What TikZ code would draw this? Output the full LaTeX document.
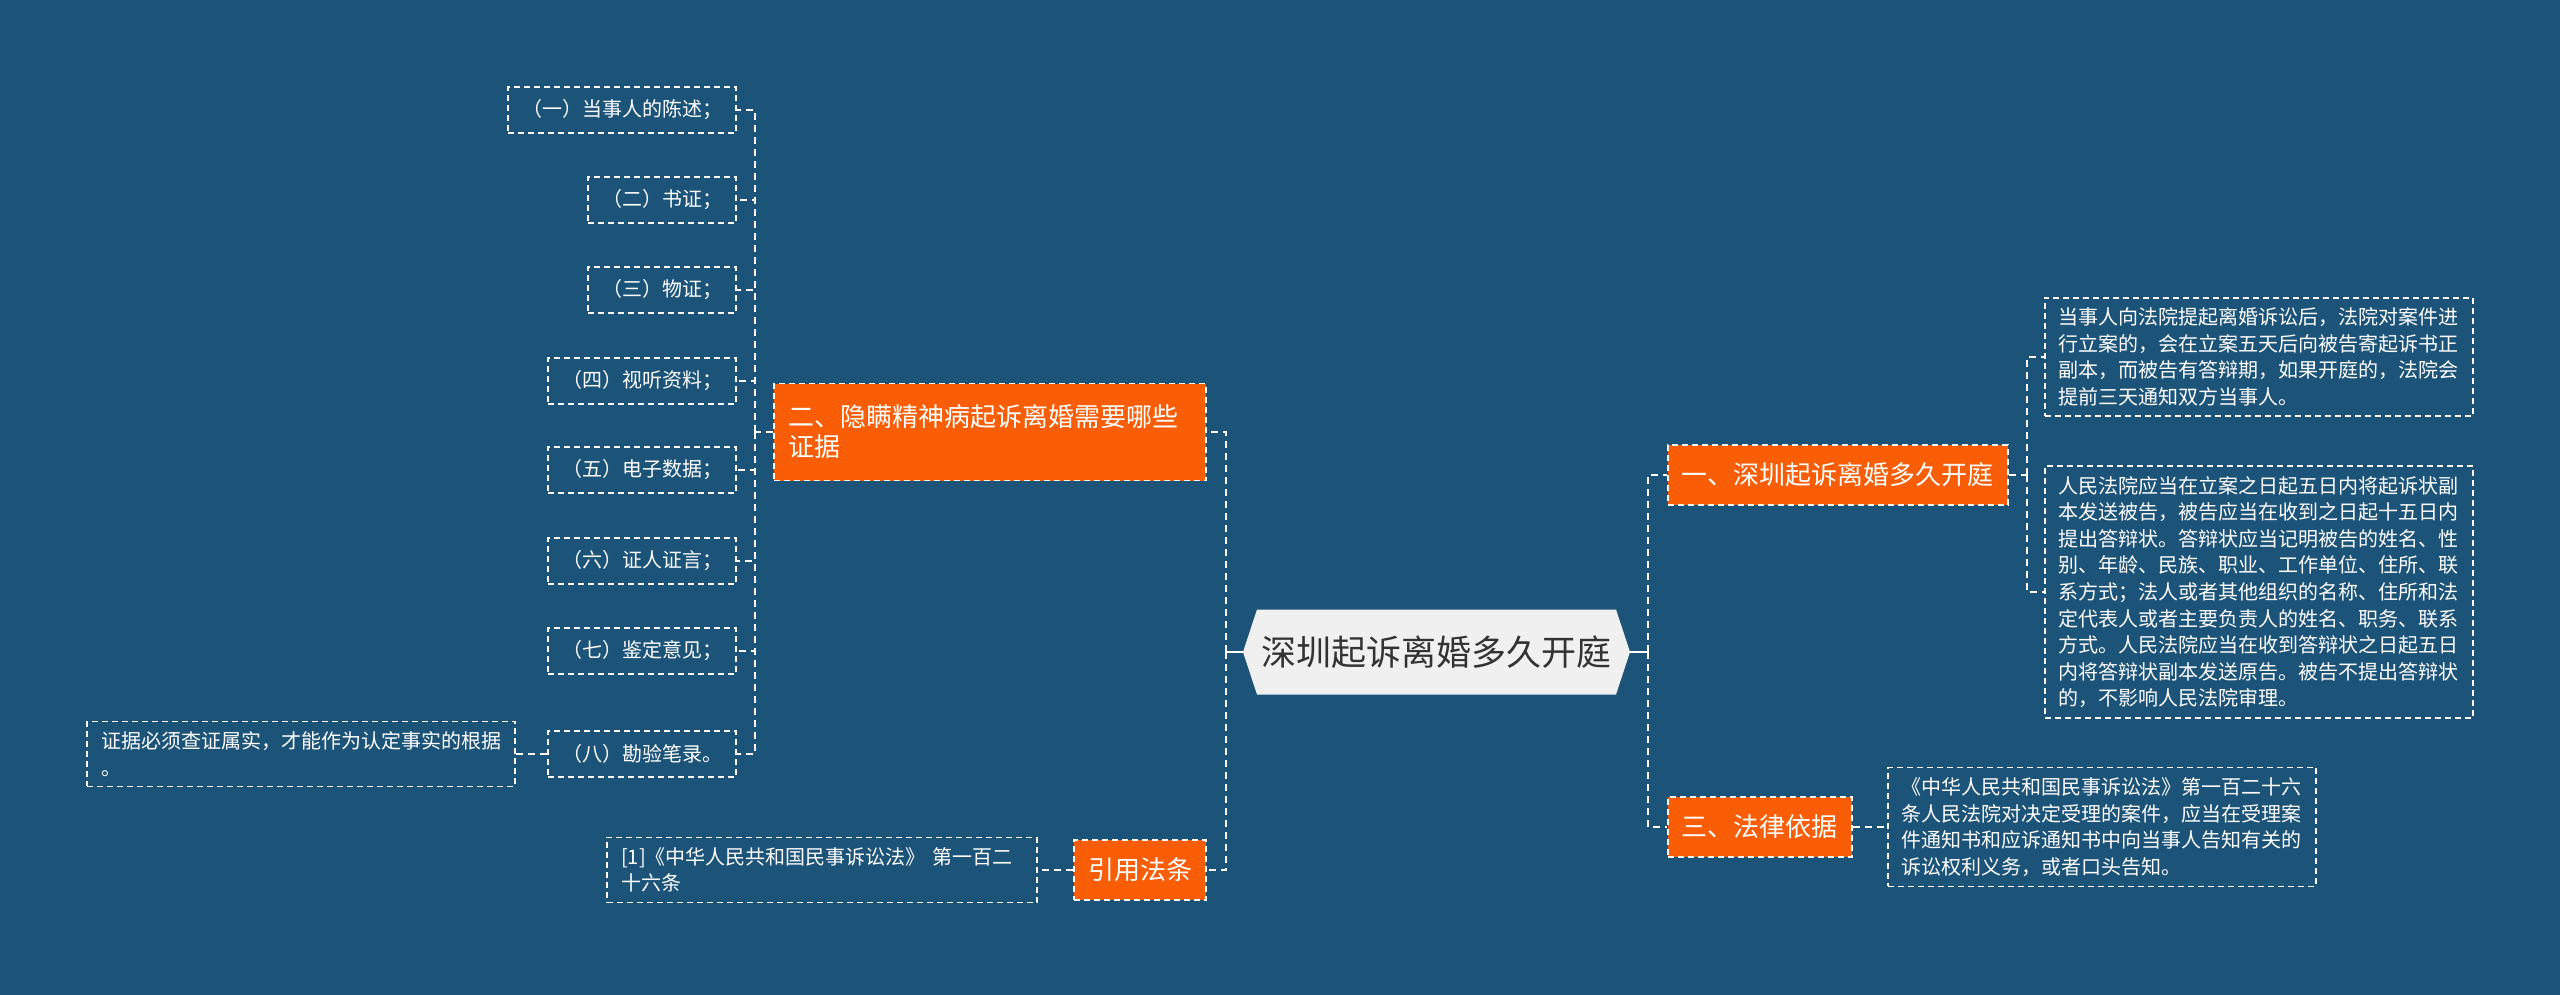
\documentclass[tikz,border=0pt]{standalone}
\usepackage{fontspec}
\newfontfamily\cjk{Noto Sans CJK SC}
\usetikzlibrary{calc}
\definecolor{bgblue}{RGB}{28,84,121}
\definecolor{branchorange}{RGB}{249,94,6}
\definecolor{rootgray}{RGB}{240,240,240}
\definecolor{roottext}{RGB}{51,51,51}
\tikzset{
  link/.style={draw=white, line width=1pt, dash pattern=on 3.5pt off 2.5pt},
  stub/.style={draw=white, line width=1pt},
  leaf/.style={draw=white, line width=0.8pt, dash pattern=on 3pt off 2pt, text=white,
    font=\cjk\fontsize{10pt}{13.3pt}\selectfont, align=left,
    inner xsep=7pt, inner ysep=5pt, minimum height=23pt},
  branch/.style={draw=white, fill=branchorange, line width=0.8pt, dash pattern=on 3pt off 2pt,
    text=white, font=\cjk\fontsize{13pt}{15pt}\selectfont, align=left,
    inner xsep=7pt, inner ysep=8pt, minimum height=30pt},
  rootnode/.style={minimum width=193.5pt, minimum height=42.5pt, inner sep=0pt, fill=bgblue,
    text=roottext, font=\cjk\fontsize{17.5pt}{20pt}\selectfont,
    path picture={\fill[rootgray]
      ($(path picture bounding box.north west)+(7pt,0pt)$) -- ($(path picture bounding box.north east)+(-7pt,0pt)$)
      -- (path picture bounding box.east) -- ($(path picture bounding box.south east)+(-7pt,0pt)$)
      -- ($(path picture bounding box.south west)+(7pt,0pt)$) -- (path picture bounding box.west) -- cycle;}}
}

\begin{document}
\begin{tikzpicture}[x=0.5pt, y=-0.5pt]
  \fill[bgblue] (0,0) rectangle (2560,995);
  \useasboundingbox (0,0) rectangle (2560,995);
  % Racine
  \node[rootnode] (root) at (1436.5,652) {深圳起诉离婚多久开庭};
  % Branches
  \node[branch, anchor=west] (b1) at (1667,475) {一、深圳起诉离婚多久开庭};
  \node[branch, anchor=east, text width=202pt, minimum height=48.5pt] (b2) at (1207,432)
    {二、隐瞒精神病起诉离婚需要哪些\\证据};
  \node[branch, anchor=west] (b3) at (1667,827) {三、法律依据};
  \node[branch, anchor=east] (b4) at (1207,870) {引用法条};
  % Preuves
  \node[leaf, anchor=east] (e1) at (737,110) {（一）当事人的陈述；};
  \node[leaf, anchor=east] (e2) at (737,200) {（二）书证；};
  \node[leaf, anchor=east] (e3) at (737,290) {（三）物证；};
  \node[leaf, anchor=east] (e4) at (737,381) {（四）视听资料；};
  \node[leaf, anchor=east] (e5) at (737,470) {（五）电子数据；};
  \node[leaf, anchor=east] (e6) at (737,561) {（六）证人证言；};
  \node[leaf, anchor=east] (e7) at (737,651) {（七）鉴定意见；};
  \node[leaf, anchor=east] (e8) at (737,754) {（八）勘验笔录。};
  \node[leaf, anchor=east, text width=200pt] (e8n) at (516,754)
    {证据必须查证属实，才能作为认定事实的根据\\。};
  % Loi citee
  \node[leaf, anchor=east, text width=201pt] (r1) at (1038,870)
    {[1]《中华人民共和国民事诉讼法》 第一百二\\十六条};
  % Delais
  \node[leaf, anchor=west] (a1) at (2044,357)
    {当事人向法院提起离婚诉讼后，法院对案件进\\行立案的，会在立案五天后向被告寄起诉书正\\副本，而被告有答辩期，如果开庭的，法院会\\提前三天通知双方当事人。};
  \node[leaf, anchor=west] (a2) at (2044,592)
    {人民法院应当在立案之日起五日内将起诉状副\\本发送被告，被告应当在收到之日起十五日内\\提出答辩状。答辩状应当记明被告的姓名、性\\别、年龄、民族、职业、工作单位、住所、联\\系方式；法人或者其他组织的名称、住所和法\\定代表人或者主要负责人的姓名、职务、联系\\方式。人民法院应当在收到答辩状之日起五日\\内将答辩状副本发送原告。被告不提出答辩状\\的，不影响人民法院审理。};
  % Base legale
  \node[leaf, anchor=west] (c1) at (1887,827)
    {《中华人民共和国民事诉讼法》第一百二十六\\条人民法院对决定受理的案件，应当在受理案\\件通知书和应诉通知书中向当事人告知有关的\\诉讼权利义务，或者口头告知。};
  % Liaisons racine
  \draw[stub] (root.west) -- ++(-17,0) coordinate (rl);
  \draw[stub] (root.east) -- ++(18,0) coordinate (rr);
  \draw[link] (rl) |- (b2.east);
  \draw[link] (rl) |- (b4.east);
  \draw[link] (rr) |- (b1.west);
  \draw[link] (rr) |- (b3.west);
  % Liaisons feuilles
  \draw[link] (b2.west) -- ++(-18,0) coordinate (el);
  \foreach \i in {1,...,8}
    \draw[link] (el) |- (e\i.east);
  \draw[link] (e8.west) -- (e8n.east);
  \draw[link] (b4.west) -- (r1.east);
  \draw[link] (b1.east) -- ++(18,0) coordinate (ar);
  \draw[link] (ar) |- (a1.west);
  \draw[link] (ar) |- (a2.west);
  \draw[link] (b3.east) -- (c1.west);
\end{tikzpicture}
\end{document}
